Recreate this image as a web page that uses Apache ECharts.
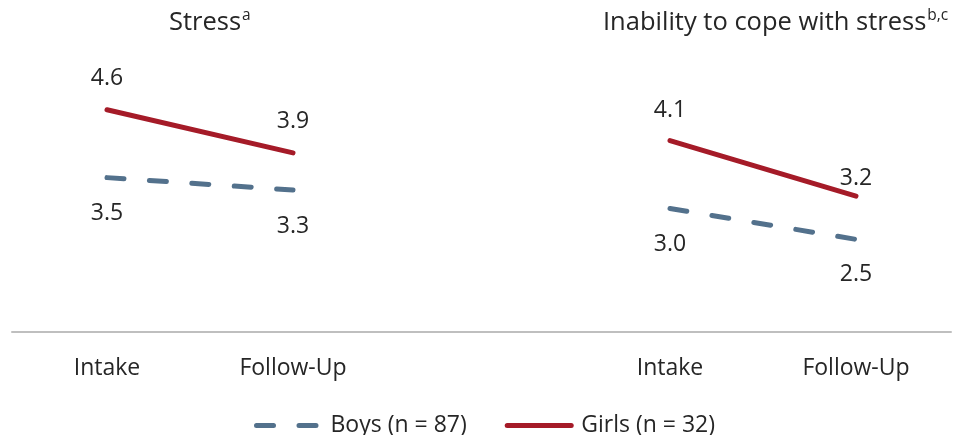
<!DOCTYPE html>
<html>
<head>
<meta charset="utf-8">
<script src="https://cdn.jsdelivr.net/npm/echarts@6/dist/echarts.min.js"></script>
<style>
  html, body { margin: 0; padding: 0; background: #fff; }
  #chart { width: 956px; height: 435px; }
</style>
</head>
<body>
<div id="chart"></div>
<script>
// Mean scores at intake and follow-up, by gender
const timepoints = ['Intake', 'Follow-Up'];
const boysStress = [3.5, 3.3];
const girlsStress = [4.6, 3.9];
const boysCoping = [3.0, 2.5];
const girlsCoping = [4.1, 3.2];
const boysName = 'Boys (n = 87)';
const girlsName = 'Girls (n = 32)';

const FONT = 'Open Sans';
const TEXT = '#262626';
const BLUE = '#53718c';
const RED = '#a51b28';
const FS = 23;

const chart = echarts.init(document.getElementById('chart'), null, { renderer: 'canvas' });

function valueAxis(gridIndex) {
  return { type: 'value', gridIndex, min: 1, max: 5, show: false };
}
function catAxis(gridIndex) {
  return {
    type: 'category', gridIndex, data: timepoints, boundaryGap: true,
    axisLine: { show: false }, axisTick: { show: false },
    axisLabel: { margin: 25, color: TEXT, fontFamily: FONT, fontSize: FS }
  };
}
// per-point label placement (distance from the point)
function pts(values, pos, dists) {
  return values.map((v, i) => ({ value: v, label: { position: pos, distance: dists[i] } }));
}
function lineSeries(name, values, axis, color, dashed, pos, dists) {
  return {
    name, type: 'line', xAxisIndex: axis, yAxisIndex: axis,
    data: pts(values, pos, dists),
    symbol: 'circle', symbolSize: 0, showSymbol: true, silent: true,
    lineStyle: { color, width: 5, cap: 'round', type: dashed ? [17, 25.5] : 'solid' },
    itemStyle: { color },
    label: {
      show: true, color: TEXT, fontFamily: FONT, fontSize: FS,
      formatter: p => Number(p.value).toFixed(1)
    }
  };
}
function titleRich() {
  return { rich: {
    m: { fontFamily: FONT, fontSize: 25.5, lineHeight: 30, fontWeight: 'normal', color: TEXT },
    s: { fontFamily: FONT, fontSize: 15.5, lineHeight: 30, fontWeight: 'normal', color: TEXT,
         verticalAlign: 'top', padding: [0, 0, 0, 1] }
  } };
}

chart.setOption({
  animation: false,
  backgroundColor: '#fff',
  title: [
    { text: '{m|Stress}{s|a}', left: 169, top: 8, padding: 0, textStyle: titleRich() },
    { text: '{m|Inability to cope with stress}{s|b,c}', left: 603, top: 8, padding: 0, textStyle: titleRich() }
  ],
  legend: {
    left: 254, top: 414, padding: 0, itemWidth: 64, itemHeight: 24, itemGap: 38,
    textStyle: { color: TEXT, fontFamily: FONT, fontSize: FS, padding: [0, 0, 0, 5] },
    itemStyle: { opacity: 0 },
    lineStyle: { width: 5, cap: 'round' },
    data: [boysName, girlsName]
  },
  grid: [
    { left: 14, width: 372, top: 85, bottom: 103 },
    { left: 577, width: 372, top: 85, bottom: 103 },
    { left: 12, right: 5, top: 85, bottom: 103 }
  ],
  xAxis: [
    catAxis(0), catAxis(1),
    { type: 'category', gridIndex: 2, data: [], axisLabel: { show: false }, axisTick: { show: false },
      axisLine: { show: true, lineStyle: { color: '#bfbfbf', width: 2 } } }
  ],
  yAxis: [valueAxis(0), valueAxis(1), valueAxis(2)],
  series: [
    lineSeries(boysName, boysStress, 0, BLUE, true, 'bottom', [24, 25]),
    lineSeries(girlsName, girlsStress, 0, RED, false, 'top', [20, 20]),
    lineSeries(boysName, boysCoping, 1, BLUE, true, 'bottom', [24, 24]),
    lineSeries(girlsName, girlsCoping, 1, RED, false, 'top', [19, 6])
  ]
});
</script>
</body>
</html>
